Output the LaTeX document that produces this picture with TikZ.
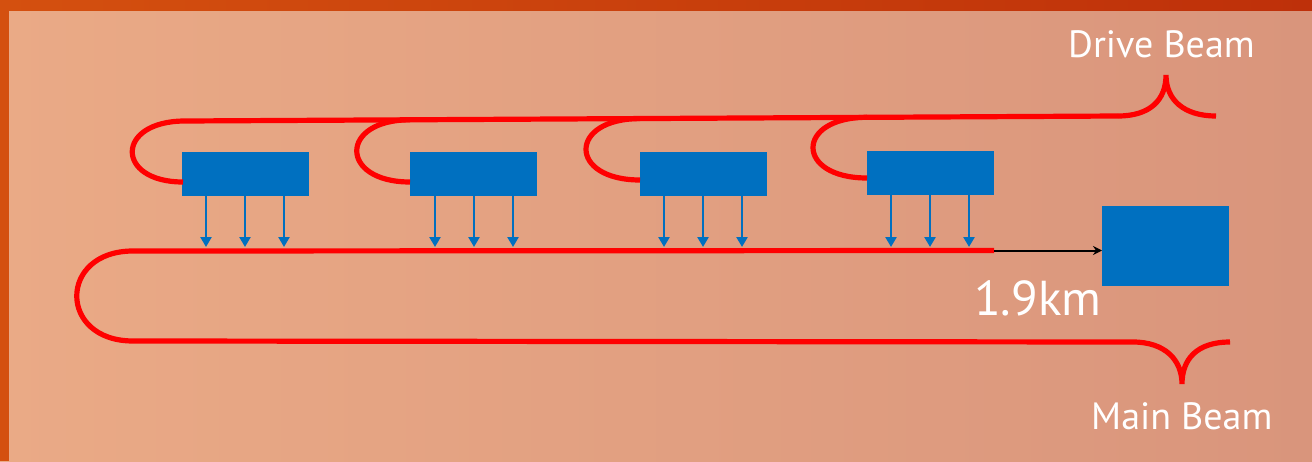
\documentclass[tikz,border=0pt]{standalone}
\usepackage{fontspec}
\setmainfont{PT Sans}
\usetikzlibrary{arrows.meta}
\definecolor{bgleft}{HTML}{EAAA86}
\definecolor{bgright}{HTML}{D9957C}
\definecolor{frameA}{HTML}{D4500F}
\definecolor{frameB}{HTML}{BE300A}
\definecolor{klystron}{HTML}{0070C0}
\definecolor{beamred}{HTML}{FF0000}
\tikzset{
  beam/.style={draw=beamred, line width=5.2pt},
  pets/.style={fill=klystron, draw=none, minimum width=127pt, minimum height=44pt, inner sep=0pt, anchor=north west},
  rfpower/.style={draw=klystron, line width=2.6pt, -{Triangle[width=11pt,length=10pt]}},
  label/.style={text=white, inner sep=0pt, anchor=base west},
}
\begin{document}
\begin{tikzpicture}[x=1pt, y=-1pt]
  \useasboundingbox (0,0) rectangle (1312,461);
  % slide background and frame
  \shade[left color=bgleft, right color=bgright] (0,0) rectangle (1312,461);
  \shade[left color=frameA, right color=frameB] (0,0) rectangle (1312,10);
  \fill[frameA] (0,0) rectangle (9,461);

  % decelerating structures
  \node[pets] (box1) at (182,152) {};
  \node[pets] (box2) at (410,152) {};
  \node[pets] (box3) at (640,152) {};
  \node[pets] (box4) at (867,151) {};
  \node[fill=klystron, minimum width=127pt, minimum height=80pt, inner sep=0pt, anchor=north west] (linac) at (1102,206) {};

  % drive beam
  \coordinate (d0) at (185,121);
  \coordinate (d1) at (1118,116);
  \coordinate (dpeak) at (1166,75);
  \coordinate (dend) at (1216,116);
  \coordinate (t2) at (410,119.8);
  \coordinate (t3) at (640,118.6);
  \coordinate (t4) at (867,117.3);
  \coordinate (e1) at (183,182);
  \coordinate (e2) at (410,182);
  \coordinate (e3) at (640,180);
  \coordinate (e4) at (867,178);
  \draw[beam] (d1) -- (d0) .. controls (115,121) and (115,182) .. (e1);
  \draw[beam] (d1) .. controls (1150,116) and (1166,100) .. (dpeak)
                   .. controls (1166,100) and (1184,116) .. (dend);
  \draw[beam] (t2) .. controls (339,119.8) and (339,182) .. (e2);
  \draw[beam] (t3) .. controls (568,118.6) and (568,180) .. (e3);
  \draw[beam] (t4) .. controls (795,117.3) and (795,178) .. (e4);

  % main beam
  \coordinate (m0) at (994,250.5);
  \coordinate (m1) at (133,251);
  \coordinate (m2) at (133,341);
  \coordinate (m3) at (1133,342);
  \coordinate (mpeak) at (1182,384);
  \coordinate (mend) at (1230,342);
  \draw[beam] (m0) -- (m1) .. controls (58,251) and (58,341) .. (m2) -- (m3)
              .. controls (1165,342) and (1182,360) .. (mpeak)
              .. controls (1182,360) and (1196,342) .. (mend);
  \draw[line width=2pt, -{Stealth[length=9pt,width=9pt]}] (m0) -- (m0 -| linac.west);

  % power transfer to the main beam
  \foreach \b/\xa/\xb/\xc in {box1/206/245/284, box2/435/474/513, box3/664/703/742, box4/891/930/969}{
    \foreach \xx in {\xa,\xb,\xc}{
      \coordinate (tip) at (\xx,247);
      \draw[rfpower] (\b.south -| tip) -- (tip);
    }
  }

  % labels
  \node[label, font=\fontsize{38}{44}\selectfont] (lbldrive) at (1068,57) {Drive Beam};
  \node[label, font=\fontsize{38}{44}\selectfont] (lblmain) at (1091,429) {Main Beam};
  \node[label, font=\fontsize{49}{56}\selectfont] (lbllen) at (974,315) {1.9km};
\end{tikzpicture}
\end{document}
